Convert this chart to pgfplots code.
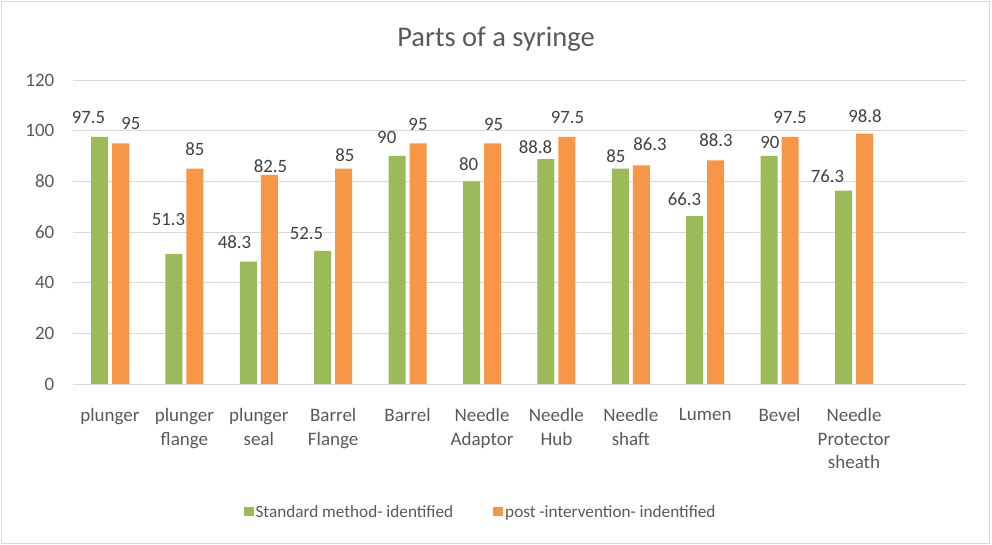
\documentclass[border=0pt]{standalone}
\usepackage{pgfplots}
\pgfplotsset{compat=1.18}
\usepackage{fontspec}
\setmainfont{Carlito}
\definecolor{cgreen}{HTML}{9BBB59}
\definecolor{corange}{HTML}{F79646}
\definecolor{ctext}{HTML}{595959}
\definecolor{clab}{HTML}{404040}
\definecolor{cgrid}{HTML}{D9D9D9}
\begin{document}
\begin{tikzpicture}
\useasboundingbox (0,0) rectangle (992pt,545pt);
\draw[cgrid, line width=1pt] (1.5pt,1.5pt) rectangle (989pt,543.5pt);
\node[anchor=base, text=ctext, font=\fontsize{28.5}{32}\selectfont] at (496pt,498pt) {Parts of a syringe};
\begin{axis}[
  at={(72.8pt,161pt)}, anchor=south west,
  scale only axis, width=892.8pt, height=304pt,
  xmin=-0.5, xmax=11.5, ymin=0, ymax=120,
  ytick={0,20,...,120},
  xtick={0,...,10},
  xticklabels={plunger,{plunger\\flange},{plunger\\seal},{Barrel\\Flange},Barrel,{Needle\\Adaptor},{Needle\\Hub},{Needle\\shaft},Lumen,Bevel,{Needle\\Protector\\sheath}},
  axis line style={draw=none},
  major tick length=0pt,
  tick style={draw=none},
  ymajorgrids,
  grid style={cgrid, line width=0.9pt},
  tick label style={text=ctext, font=\fontsize{19}{23.5}\selectfont},
  /pgf/number format/assume math mode=true,
  yticklabel style={xshift=-15pt},
  xticklabel style={align=center, yshift=-21pt},
  legend columns=2,
  legend style={at={(0.4567,-0.421)}, anchor=center, draw=none, fill=none,
    font=\fontsize{17.2}{21}\selectfont, text=ctext,
    /tikz/every even column/.append style={column sep=38pt}},
  every node near coord/.style={anchor=center, inner sep=0pt, text=clab, font=\fontsize{18.8}{22}\selectfont},
]
\addplot[ybar, bar width=17pt, bar shift=-10.5pt, fill=cgreen, draw=none,
  legend image code/.code={\fill[cgreen] (0pt,-4.5pt) rectangle (10pt,5pt);}]
  coordinates {(0,97.5) (1,51.3) (2,48.3) (3,52.5) (4,90) (5,80) (6,88.8) (7,85) (8,66.3) (9,90) (10,76.3)};
\addlegendentry{Standard method- identified}
\addplot[ybar, bar width=17pt, bar shift=10.5pt, fill=corange, draw=none,
  legend image code/.code={\fill[corange] (0pt,-4.5pt) rectangle (10pt,5pt);}]
  coordinates {(0,95) (1,85) (2,82.5) (3,85) (4,95) (5,95) (6,97.5) (7,86.3) (8,88.3) (9,97.5) (10,98.8)};
\addlegendentry{post -intervention- indentified}
\addplot[forget plot, only marks, mark=none, nodes near coords, point meta=explicit symbolic]
  coordinates {(-0.289,105.4) [97.5] (0.786,65.1) [51.3] (1.673,56.1) [48.3] (2.641,59.4) [52.5]
  (3.720,97.3) [90] (4.819,86.7) [80] (5.719,93.6) [88.8] (6.798,90.0) [85] (7.722,73.0) [66.3]
  (8.868,95.3) [90] (9.644,82.1) [76.3]};
\addplot[forget plot, only marks, mark=none, nodes near coords, point meta=explicit symbolic]
  coordinates {(0.282,102.8) [95] (1.142,92.8) [85] (2.157,85.9) [82.5] (3.156,90.2) [85]
  (4.140,102.6) [95] (5.155,102.6) [95] (6.149,105.4) [97.5] (7.258,94.6) [86.3] (8.145,96.1) [88.3]
  (9.140,105.2) [97.5] (10.148,105.8) [98.8]};
\end{axis}
\end{tikzpicture}
\end{document}
